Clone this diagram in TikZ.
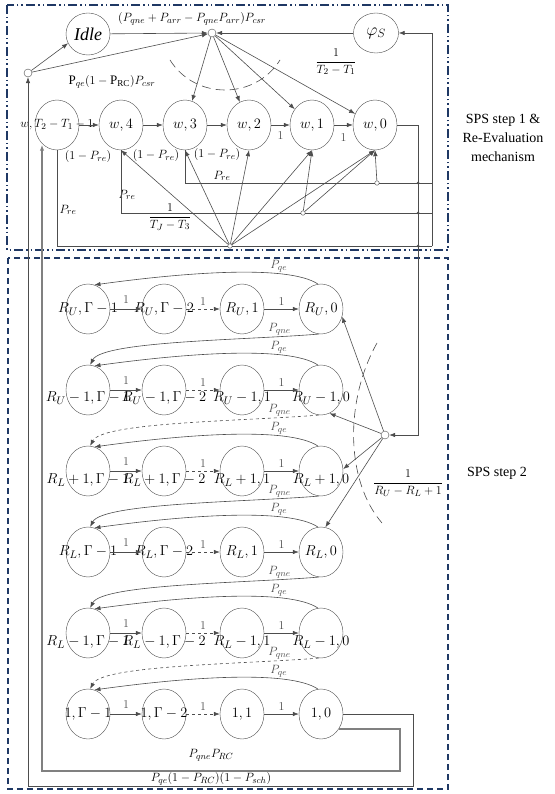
\documentclass[tikz,border=0pt]{standalone}
\usepackage{amsmath}
\usepackage{fontspec}
\setmainfont{Liberation Serif}
\usepackage{tikz}
\usetikzlibrary{arrows.meta,shapes.geometric,calc}

\definecolor{frameblue}{HTML}{1F3864}
\definecolor{linegray}{HTML}{4D4D4D}

\begin{document}
\begin{tikzpicture}[
    x=1pt, y=-1pt,
    st/.style={draw=linegray, ellipse, minimum width=44pt, minimum height=50pt, inner sep=0pt},
    stxt/.style={font=\fontsize{15}{18}\selectfont, inner sep=0pt},
    jn/.style={draw=linegray, circle, fill=white, minimum size=8pt, inner sep=0pt},
    tap/.style={draw=linegray, circle, fill=white, minimum size=4.5pt, inner sep=0pt},
    tdot/.style={circle, fill=linegray, minimum size=3pt, inner sep=0pt},
    arr/.style={-{Latex[length=6pt,width=4.5pt]}, linegray, line width=0.6pt},
    ln/.style={linegray, line width=0.6pt},
    lbl/.style={font=\fontsize{13}{15}\selectfont, inner sep=1pt},
    one/.style={font=\fontsize{12}{14}\selectfont, inner sep=1pt},
    bigtxt/.style={font=\fontsize{14}{19}\selectfont, align=center},
]
\useasboundingbox (0,0) rectangle (554,794);
\draw[frameblue, line width=1.3pt, dash pattern=on 9pt off 3pt on 1.5pt off 3pt on 1.5pt off 3pt]
    (7,5) rectangle (448,250);
\draw[frameblue, line width=1.3pt, dash pattern=on 6pt off 4pt] (8,258) rectangle (448,789);
\node[bigtxt] (step1) at (503,138) {SPS step 1 \&\\Re-Evaluation\\mechanism};
\node[bigtxt] (step2) at (497,473) {SPS step 2};

\node[st, minimum height=42pt, font=\fontsize{18}{20}\selectfont] (idle) at (88,34) {$\mathit{Idle}$};
\node[st, minimum width=45pt, minimum height=40pt, font=\fontsize{17}{20}\selectfont] (phis) at (376,33) {$\varphi_S$};
\node[jn] (jtop) at (212,33) {};
\node[jn] (jleft) at (28,73) {};
\foreach \n/\x in {5/57,4/121,3/185,2/249,1/312,0/375}
    \node[st] (w\n) at (\x,125) {};
\node[stxt, font=\fontsize{13}{15}\selectfont] (tw5) at (w5) {$w,T_2-T_1-1$};
\foreach \n in {4,3,2,1,0}
    \node[stxt] (tw\n) at (w\n) {$w,\n$};

\draw[arr] (idle) -- (jtop);
\draw[arr] (phis) -- (jtop);
\draw[arr] (jleft) -- (idle.205);
\draw[arr] (jleft) -- (jtop);
\node[lbl] (lcsr) at (192,19) {$(P_{qne}+P_{arr}-P_{qne}P_{arr})P_{csr}$};
\node[lbl] (lqecsr) at (112,82) {$\mathrm{P}_{qe}(1-\mathrm{P}_{\mathrm{RC}})P_{csr}$};
\foreach \n in {3,2,1,0}
    \draw[arr] (jtop) -- (w\n);
\draw[ln, dash pattern=on 9pt off 5pt] (170,60) .. controls (195,100) and (255,100) .. (280,60);
\node[lbl] (ltt) at (336,62) {$\dfrac{1}{T_2-T_1}$};

\draw[arr] (w5) -- (w4);
\draw[arr] (w4) -- (w3);
\draw[arr] (w3) -- (w2);
\draw[arr] (w2) -- node[one, below=5pt] (o21) {$1$} (w1);
\draw[arr] (w1) -- node[one, below=7pt] (o10) {$1$} (w0);
\node[lbl] (lre1) at (88,157) {$(1-P_{re})$};
\node[lbl] (lre2) at (156,156) {$(1-P_{re})$};
\node[lbl] (lre3) at (217,155) {$(1-P_{re})$};
\node[lbl] (lpre1) at (68,210) {$P_{re}$};
\node[lbl] (lpre2) at (127,195) {$P_{re}$};
\node[lbl] (lpre3) at (222,176) {$P_{re}$};
\node[lbl] (ltj) at (170,217) {$\dfrac{1}{T_J-T_3}$};

\node[tap] (jbot) at (230,246) {};
\node[tap] (tap1) at (377,183) {};
\node[tap] (tap2) at (303,213) {};
\coordinate (r183) at (432,183);
\coordinate (r213) at (432,213);
\coordinate (r246) at (432,246);
\coordinate (cw0) at (418,435);
\draw[ln] (w5) |- (jbot);
\draw[ln] (jbot) -- (r246);
\draw[ln] (w4) |- (tap2);
\draw[ln] (tap2) -- (r213);
\draw[ln] (w3) |- (tap1);
\draw[ln] (tap1) -- (r183);
\foreach \n in {4,3,2,1,0}
    \draw[arr] (jbot) -- (w\n.south);
\draw[arr] (tap1) -- (w0.south);
\draw[arr] (tap2) -- (w1.south);
\draw[arr] (tap2) -- (w0.south);
\draw[arr] (r246) |- (phis);

\node[jn] (dist) at (385,435) {};
\draw[arr] (w0) -| (cw0) -- (dist);
\node[tdot] (k1) at (418,183) {};
\node[tdot] (k2) at (418,213) {};
\node[tdot] (k3) at (418,246) {};

\foreach \rw/\y/\lab/\sh in {a/309/R_U/0pt, b/390/R_U-1/8pt, c/471/R_L+1/9pt,
                             d/552/R_L/0pt, e/633/R_L-1/9pt, f/714/1/0pt} {
    \node[st] (\rw1) at (88,\y) {};
    \node[st] (\rw2) at (164,\y) {};
    \node[st] (\rw3) at (242,\y) {};
    \node[st] (\rw4) at (321,\y) {};
    \node[stxt, yshift=-\sh] (\rw t1) at (\rw1) {$\lab,\Gamma-1$};
    \node[stxt, yshift=-\sh] (\rw t2) at (\rw2) {$\lab,\Gamma-2$};
    \node[stxt, yshift=-\sh] (\rw t3) at (\rw3) {$\lab,1$};
    \node[stxt, yshift=-\sh] (\rw t4) at (\rw4) {$\lab,0$};
    \draw[arr] (\rw1) -- node[one, above=4pt] (\rw h1) {$1$} (\rw2);
    \draw[arr, dashed] (\rw2) -- node[one, above=2pt] (\rw h2) {$1$} (\rw3);
    \draw[arr] (\rw3) -- node[one, above=2pt] (\rw h3) {$1$} (\rw4);
    \draw[arr] (\rw4.97) .. controls +(-30,-20) and +(87,-12) .. (\rw1.75)
        node[lbl, pos=0.27, above] (\rw qe) {$P_{qe}$};
}
\foreach \up/\dn/\ls in {a/b/solid, b/c/dashed, c/d/solid, d/e/solid, e/f/dashed}
    \draw[arr, \ls] (\up4.265) .. controls +(-72,6) and +(12,-24) .. (\dn1.85)
        node[lbl, pos=0.16, above] (\up qne) {$P_{qne}$};

\draw[arr] (dist) -- (a4.-20);
\draw[arr] (dist) -- (b4.290);
\draw[arr] (dist) -- (c4.5);
\draw[arr] (dist) -- (d4.80);
\draw[ln, dash pattern=on 9pt off 5pt] (377,343) .. controls (345,400) and (345,480) .. (382,523);
\node[lbl] (lru) at (408,483) {$\dfrac{1}{R_U-R_L+1}$};

\coordinate (o1) at (413,786);
\coordinate (o2) at (28,786);
\coordinate (o3) at (400,771);
\coordinate (o4) at (42,771);
\draw[arr] (f4) -| (o1) -- (o2) -- (jleft);
\draw[arr, line width=1.2pt, gray] (f4.-40) -| (o3) -- (o4) -- (w5.235 -| o4);
\node[lbl] (lrc) at (211,755) {$P_{qne}P_{RC}$};
\node[lbl] (lsch) at (211,779) {$P_{qe}(1-P_{RC})(1-P_{sch})$};
\end{tikzpicture}
\end{document}
